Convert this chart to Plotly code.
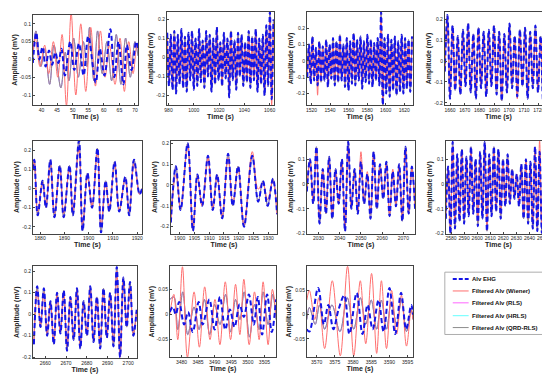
import plotly.graph_objects as go

W, H = 550, 375

# ---------------- data (time in s, amplitude in mV) ----------------
# Panel 1
p1_t_ehg = [37.2, 38.3, 39.3, 40.3, 41.3, 42.4, 43.4, 44.4, 45.4, 46.4, 47.5, 49.2, 50.5, 52.0, 53.5, 55.0, 57.4, 58.7, 60.2, 62.1, 63.4, 64.7, 66.3, 67.4, 68.9, 70.4, 71.0]
p1_ehg = [-0.01, 0.075, 0.0, 0.035, -0.02, 0.025, -0.015, 0.02, -0.01, 0.03, -0.045, 0.05, -0.03, 0.045, -0.045, 0.065, -0.065, 0.03, -0.045, 0.085, -0.05, 0.05, -0.07, 0.04, -0.03, 0.05, 0.03]
p1_t_wiener = [37.2, 38.0, 39.5, 41.0, 42.3, 43.8, 45.2, 46.6, 48.0, 49.5, 51.0, 52.6, 54.2, 55.8, 57.3, 58.9, 60.4, 61.8, 63.6, 65.2, 66.6, 68.0, 69.4, 70.6, 71.0]
p1_wiener = [0.02, 0.06, -0.02, 0.04, -0.04, 0.05, -0.05, 0.07, -0.13, 0.13, -0.1, 0.1, -0.09, 0.09, -0.075, 0.08, -0.05, 0.04, -0.07, 0.06, -0.09, 0.05, -0.04, 0.04, 0.03]
p1_t_qrd = [37.2, 38.2, 39.8, 41.0, 42.6, 44.0, 46.2, 47.6, 48.8, 50.3, 51.8, 53.4, 54.6, 55.4, 56.8, 58.0, 59.5, 61.0, 62.5, 64.0, 65.5, 67.0, 68.5, 70.0, 71.0]
p1_qrd = [0.0, 0.08, -0.02, 0.03, -0.07, 0.04, -0.08, 0.02, -0.06, 0.06, -0.05, 0.05, -0.02, 0.09, -0.06, 0.08, -0.04, 0.05, -0.06, 0.07, -0.07, 0.06, -0.05, 0.05, 0.01]

# Panel 2 (uniform extrema spacing)
p2_t0, p2_dt = 979.0, 1.4
p2_ehg = [0.13, -0.15, 0.12, -0.17, 0.14, -0.19, 0.12, -0.14, 0.15, -0.16,
          0.11, -0.18, 0.13, -0.12, 0.14, -0.17, 0.10, -0.15, 0.15, -0.13,
          0.09, -0.16, 0.14, -0.10, 0.12, -0.18, 0.10, -0.14, 0.16, -0.12,
          0.08, -0.15, 0.13, -0.11, 0.10, -0.21, 0.14, -0.12, 0.09, -0.17,
          0.13, -0.10, 0.12, -0.15, 0.08, -0.13, 0.14, -0.16, 0.11, -0.12,
          0.15, -0.18, 0.10, -0.14, 0.12, -0.20, 0.17, -0.15, 0.24, -0.22, 0.20]
p2_wiener = [0.10, -0.12, 0.09, -0.14, 0.11, -0.15, 0.09, -0.11, 0.12, -0.13,
             0.08, -0.14, 0.10, -0.09, 0.11, -0.13, 0.07, -0.12, 0.12, -0.10,
             0.07, -0.13, 0.11, -0.08, 0.09, -0.14, 0.08, -0.11, 0.13, -0.09,
             0.06, -0.12, 0.10, -0.09, 0.08, -0.17, 0.11, -0.10, 0.07, -0.14,
             0.10, -0.08, 0.09, -0.12, 0.06, -0.10, 0.11, -0.13, 0.09, -0.10,
             0.12, -0.15, 0.08, -0.11, 0.10, -0.17, 0.14, -0.13, 0.21, -0.25, 0.18]

# Panel 3
p3_t0, p3_dt = 1515.5, 1.85
p3_ehg = [-0.10, 0.10, -0.14, 0.15, -0.12, 0.08, -0.15, 0.12, -0.13, 0.09,
          -0.12, 0.13, -0.16, 0.10, -0.11, 0.14, -0.15, 0.12, -0.13, 0.16,
          -0.12, 0.10, -0.16, 0.14, -0.18, 0.12, -0.14, 0.17, -0.15, 0.13,
          -0.12, 0.15, -0.17, 0.12, -0.13, 0.16, -0.14, 0.13, -0.16, 0.11,
          -0.12, 0.14, -0.15, 0.30, -0.27, 0.14, -0.20, 0.16, -0.22, 0.13,
          -0.18, 0.15, -0.21, 0.12, -0.19, 0.16, -0.20, 0.14, -0.17, 0.13,
          -0.19, 0.15]
p3_wiener = [-0.08, 0.08, -0.11, 0.12, -0.10, 0.06, -0.21, 0.10, -0.10, 0.07,
             -0.10, 0.10, -0.13, 0.08, -0.09, 0.11, -0.12, 0.10, -0.10, 0.13,
             -0.10, 0.08, -0.13, 0.11, -0.14, 0.10, -0.11, 0.13, -0.12, 0.10,
             -0.10, 0.12, -0.14, 0.10, -0.10, 0.13, -0.11, 0.10, -0.13, 0.09,
             -0.10, 0.11, -0.12, 0.26, -0.24, 0.11, -0.16, 0.13, -0.17, 0.10,
             -0.14, 0.12, -0.16, 0.10, -0.15, 0.13, -0.16, 0.11, -0.14, 0.10,
             -0.15, 0.12]

# Panel 4
p4_t0, p4_dt = 1656.5, 1.75
p4_ehg = [-0.05, 0.22, -0.18, 0.17, -0.14, 0.12, -0.16, 0.15, -0.12, 0.18,
          -0.15, 0.13, -0.18, 0.16, -0.13, 0.14, -0.17, 0.15, -0.12, 0.17,
          -0.16, 0.14, -0.19, 0.13, -0.15, 0.18, -0.13, 0.12, -0.17, 0.15,
          -0.12, 0.16, -0.18, 0.14, -0.13, 0.17, -0.15, 0.12, -0.20, 0.16,
          -0.19, 0.23]
p4_wiener = [-0.04, 0.19, -0.16, 0.14, -0.12, 0.10, -0.14, 0.12, -0.10, 0.15,
             -0.13, 0.11, -0.15, 0.13, -0.11, 0.12, -0.14, 0.13, -0.10, 0.14,
             -0.13, 0.12, -0.16, 0.11, -0.13, 0.15, -0.11, 0.10, -0.18, 0.13,
             -0.10, 0.14, -0.15, 0.12, -0.11, 0.14, -0.13, 0.10, -0.17, 0.14,
             -0.17, 0.21]

# Panel 5
p5_t = [1877.0, 1877.6, 1879.0, 1881.0, 1882.4, 1884.2, 1885.9, 1888.1, 1889.7, 1892.1, 1893.5, 1896.0, 1897.5,
        1899.5, 1901.4, 1903.6, 1905.1, 1907.0, 1908.5, 1910.7, 1912.6, 1915.1, 1916.7, 1918.7, 1921.0, 1922.0]
p5_ehg = [0.10, 0.15, -0.14, 0.04, -0.10, 0.15, -0.15, 0.12, -0.15, 0.12, -0.14, 0.25, -0.22,
          0.08, -0.10, 0.21, -0.23, 0.04, -0.12, 0.14, -0.12, 0.06, -0.14, 0.15, -0.03, 0.0]
p5_wiener = [0.09, 0.14, -0.12, 0.03, -0.09, 0.13, -0.13, 0.11, -0.13, 0.11, -0.12, 0.21, -0.19,
             0.06, -0.09, 0.20, -0.20, 0.03, -0.10, 0.13, -0.11, 0.05, -0.12, 0.13, -0.03, 0.0]

# Panel 6
p6_t = [1897.0, 1898.7, 1900.3, 1902.7, 1904.5, 1906.0, 1907.6, 1909.6, 1911.2, 1912.7, 1914.4,
        1916.4, 1918.0, 1919.8, 1921.8, 1924.6, 1926.6, 1928.2, 1929.8, 1931.6, 1933.0]
p6_ehg = [-0.18, 0.09, -0.12, 0.20, -0.22, 0.05, -0.10, 0.14, -0.12, 0.05, -0.16,
          0.15, -0.10, 0.09, -0.20, 0.14, -0.08, 0.02, -0.10, 0.03, -0.14]
p6_wiener = [-0.17, 0.05, -0.11, 0.19, -0.21, 0.04, -0.10, 0.13, -0.11, 0.04, -0.15,
             0.13, -0.09, 0.08, -0.19, 0.16, -0.02, 0.01, -0.07, 0.02, -0.14]

# Panel 7
p7_t0, p7_dt = 2024.5, 1.5
p7_ehg = [-0.03, 0.10, -0.08, 0.15, -0.16, 0.06, -0.12, 0.11, -0.14, 0.06,
          -0.08, 0.10, -0.19, 0.17, -0.10, 0.06, -0.12, 0.09, -0.08, 0.04,
          -0.14, 0.13, -0.10, 0.08, -0.06, 0.09, -0.13, 0.05, -0.09, 0.08,
          -0.15, 0.15, -0.12, 0.07, -0.10]
p7_wiener = [-0.02, 0.09, -0.07, 0.13, -0.14, 0.05, -0.11, 0.10, -0.12, 0.05,
             -0.07, 0.09, -0.17, 0.15, -0.09, 0.05, -0.11, 0.13, -0.07, 0.05,
             -0.12, 0.12, -0.09, 0.07, -0.05, 0.08, -0.12, 0.06, -0.08, 0.07,
             -0.13, 0.14, -0.11, 0.06, -0.09]

# Panel 8
p8_t0, p8_dt = 2576.0, 1.75
p8_ehg = [-0.14, 0.07, -0.20, 0.17, -0.18, 0.12, -0.15, 0.14, -0.16, 0.11,
          -0.13, 0.15, -0.12, 0.10, -0.17, 0.13, -0.14, 0.17, -0.19, 0.12,
          -0.13, 0.15, -0.11, 0.14, -0.14, 0.10, -0.09, 0.12, -0.08, 0.06,
          -0.06, 0.04, -0.09, 0.08, -0.14, 0.10, -0.16, 0.09, -0.18, 0.15,
          -0.19, 0.13, -0.20, 0.15, -0.12, 0.10]
p8_wiener = [-0.12, 0.06, -0.18, 0.15, -0.16, 0.10, -0.13, 0.12, -0.14, 0.10,
             -0.11, 0.13, -0.10, 0.09, -0.15, 0.11, -0.12, 0.15, -0.17, 0.10,
             -0.11, 0.13, -0.10, 0.12, -0.12, 0.09, -0.08, 0.10, -0.07, 0.05,
             -0.05, 0.04, -0.08, 0.07, -0.12, 0.09, -0.14, 0.08, -0.16, 0.13,
             -0.17, 0.175, -0.18, 0.13, -0.11, 0.09]

# Panel 9
p9_t0, p9_dt = 2654.5, 1.6
p9_ehg = [-0.14, 0.13, -0.06, 0.12, -0.10, 0.06, -0.14, 0.10, -0.09, 0.11,
          -0.17, 0.08, -0.12, 0.12, -0.16, 0.06, -0.10, 0.13, -0.13, 0.08,
          -0.16, 0.12, -0.11, 0.10, -0.15, 0.22, -0.20, 0.17, -0.06, 0.15,
          -0.10, 0.02]
p9_wiener = [-0.12, 0.11, -0.05, 0.10, -0.09, 0.05, -0.13, 0.09, -0.08, 0.10,
             -0.15, 0.07, -0.11, 0.11, -0.14, 0.05, -0.09, 0.12, -0.12, 0.07,
             -0.14, 0.11, -0.10, 0.09, -0.13, 0.20, -0.20, 0.15, -0.05, 0.13,
             -0.09, 0.02]

# Panel 10
p10_t_ehg = [3476.5, 3477.4, 3478.3, 3479.3, 3480.8, 3482.0, 3483.4, 3485.2, 3486.4, 3488.4, 3490.0, 3491.6,
             3493.2, 3494.6, 3496.0, 3497.5, 3498.8, 3500.3, 3501.8, 3503.0, 3504.3, 3505.8, 3507.2, 3508.5]
p10_ehg = [0.005, 0.015, 0.0, 0.025, -0.02, 0.005, -0.035, 0.025, -0.02, 0.03, -0.03, 0.035,
           -0.03, 0.01, -0.025, 0.02, -0.005, 0.04, -0.02, 0.035, -0.04, 0.04, -0.035, 0.03]
p10_t_wiener = [3476.5, 3477.7, 3478.9, 3480.3, 3481.8, 3483.8, 3485.4, 3487.0, 3488.6, 3490.1, 3491.6, 3493.2,
                3494.8, 3496.3, 3497.6, 3498.8, 3500.4, 3502.0, 3503.4, 3504.6, 3506.1, 3507.4, 3508.5]
p10_wiener = [0.0, 0.04, -0.05, 0.095, -0.085, 0.045, -0.065, 0.055, -0.05, 0.03, -0.06, 0.065,
              -0.05, 0.06, -0.04, 0.07, -0.06, 0.045, -0.05, 0.065, -0.06, 0.05, 0.0]
p10_t_qrd = [3476.5, 3477.7, 3478.9, 3480.4, 3481.9, 3483.8, 3485.3, 3486.9, 3488.5, 3490.0, 3491.6, 3493.3,
             3494.8, 3496.3, 3497.6, 3498.9, 3500.5, 3502.0, 3503.4, 3504.6, 3506.1, 3507.5, 3508.5]
p10_qrd = [0.03, 0.035, -0.03, 0.045, -0.04, 0.015, -0.03, 0.03, -0.04, 0.02, -0.02, 0.04,
           -0.035, 0.03, -0.01, 0.045, -0.045, 0.02, -0.03, 0.045, -0.02, 0.04, -0.01]

# Panel 11
p11_t_ehg = [3567.3, 3568.0, 3570.4, 3572.0, 3573.2, 3574.6, 3576.0, 3577.6, 3579.0, 3581.0, 3582.6,
             3584.0, 3585.4, 3587.0, 3588.4, 3590.0, 3591.6, 3593.2, 3594.6, 3596.0, 3596.5]
p11_ehg = [-0.03, -0.035, 0.055, -0.02, 0.02, -0.03, 0.01, 0.04, -0.04, 0.045, -0.04,
           0.02, -0.03, 0.03, -0.035, 0.055, -0.04, 0.045, -0.03, 0.02, 0.0]
p11_t_wiener = [3567.3, 3568.0, 3569.5, 3570.6, 3572.2, 3574.3, 3576.5, 3578.5, 3580.2, 3582.0, 3583.5,
                3585.1, 3586.5, 3587.8, 3589.2, 3590.6, 3592.0, 3593.3, 3594.7, 3596.0, 3596.5]
p11_wiener = [0.03, 0.05, -0.01, 0.035, -0.07, 0.07, -0.085, 0.1, -0.085, 0.07, -0.06,
              0.085, -0.08, 0.07, -0.07, 0.05, -0.04, 0.04, -0.065, 0.01, -0.01]
p11_t_qrd = [3567.3, 3568.0, 3569.6, 3570.8, 3572.2, 3574.2, 3576.4, 3578.4, 3580.2, 3582.0, 3583.5,
             3585.0, 3586.5, 3587.8, 3589.2, 3590.5, 3592.0, 3593.3, 3594.7, 3596.0, 3596.5]
p11_qrd = [-0.01, 0.015, -0.02, 0.02, -0.03, 0.02, -0.035, 0.035, -0.03, 0.035, -0.02,
           0.03, -0.03, 0.03, -0.03, 0.025, -0.02, 0.03, -0.035, 0.01, -0.01]

# Tick values
p1_xticks = [40, 45, 50, 55, 60, 65, 70]
p2_xticks = [980, 1000, 1020, 1040, 1060]
p3_xticks = [1520, 1540, 1560, 1580, 1600, 1620]
p4_xticks = [1660, 1670, 1680, 1690, 1700, 1710, 1720]
p5_xticks = [1880, 1890, 1900, 1910, 1920]
p6_xticks = [1900, 1905, 1910, 1915, 1920, 1925, 1930]
p7_xticks = [2030, 2040, 2050, 2060, 2070]
p8_xticks = [2580, 2590, 2600, 2610, 2620, 2630, 2640, 2650]
p9_xticks = [2660, 2670, 2680, 2690, 2700]
p10_xticks = [3480, 3485, 3490, 3495, 3500, 3505]
p11_xticks = [3570, 3575, 3580, 3585, 3590, 3595]
yt_small = [-0.1, -0.05, 0, 0.05, 0.1]
yt_big = [-0.2, -0.1, 0, 0.1, 0.2]
yt_mid = [-0.2, -0.1, 0, 0.1]
yt_tiny = [-0.05, 0, 0.05]

series_names = ["Alv EHG", "Filtered Alv (Wiener)", "Filtered Alv (RLS)",
                "Filtered Alv (HRLS)", "Filtered Alv (QRD-RLS)"]

# ---------------- styles ----------------
C_EHG = "#1414e6"
C_WIENER = "#ff6f6f"
C_RLS = "#ff66ff"
C_HRLS = "#66ffff"
C_QRD = "#8c8c8c"
series_colors = [C_EHG, C_WIENER, C_RLS, C_HRLS, C_QRD]

# pixel boxes: (x0, x1, y0, y1) from the top-left
panels = [
    dict(box=(22, 128, 6, 97), xr=(37.2, 71.0), yr=(-0.128, 0.125), xt=p1_xticks, yt=yt_small,
         ehg=(p1_t_ehg, p1_ehg), wiener=(p1_t_wiener, p1_wiener), qrd=(p1_t_qrd, p1_qrd)),
    dict(box=(157, 265, 3, 97), xr=(978.7, 1063.5), yr=(-0.25, 0.24), xt=p2_xticks, yt=yt_big,
         u=(p2_t0, p2_dt), ehg=p2_ehg, wiener=p2_wiener, qrd=p2_ehg),
    dict(box=(298, 405, 3, 97), xr=(1515.0, 1629.5), yr=(-0.27, 0.30), xt=p3_xticks, yt=yt_big,
         u=(p3_t0, p3_dt), ehg=p3_ehg, wiener=p3_wiener, qrd=p3_ehg),
    dict(box=(437, 545, 3, 97), xr=(1656.5, 1729.0), yr=(-0.21, 0.235), xt=p4_xticks, yt=yt_big,
         u=(p4_t0, p4_dt), ehg=p4_ehg, wiener=p4_wiener, qrd=p4_ehg),
    dict(box=(22, 132, 133, 227), xr=(1877.0, 1922.0), yr=(-0.235, 0.25), xt=p5_xticks, yt=yt_big,
         ehg=(p5_t, p5_ehg), wiener=(p5_t, p5_wiener), qrd=(p5_t, p5_ehg)),
    dict(box=(161, 268, 133, 227), xr=(1897.0, 1933.0), yr=(-0.233, 0.213), xt=p6_xticks, yt=yt_big,
         ehg=(p6_t, p6_ehg), wiener=(p6_t, p6_wiener), qrd=(p6_t, p6_ehg)),
    dict(box=(298, 407, 133, 227), xr=(2024.5, 2075.5), yr=(-0.2, 0.175), xt=p7_xticks, yt=yt_mid,
         u=(p7_t0, p7_dt), ehg=p7_ehg, wiener=p7_wiener, qrd=p7_ehg),
    dict(box=(438, 544, 133, 227), xr=(2576.0, 2656.5), yr=(-0.2, 0.175), xt=p8_xticks, yt=yt_mid,
         u=(p8_t0, p8_dt), ehg=p8_ehg, wiener=p8_wiener, qrd=p8_ehg),
    dict(box=(22, 127, 260, 353), xr=(2654.0, 2704.3), yr=(-0.205, 0.223), xt=p9_xticks, yt=yt_big,
         u=(p9_t0, p9_dt), ehg=p9_ehg, wiener=p9_wiener, qrd=p9_ehg),
    dict(box=(160, 267, 260, 352), xr=(3476.5, 3508.5), yr=(-0.085, 0.096), xt=p10_xticks, yt=yt_tiny,
         ehg=(p10_t_ehg, p10_ehg), wiener=(p10_t_wiener, p10_wiener), qrd=(p10_t_qrd, p10_qrd)),
    dict(box=(298, 405, 260, 352), xr=(3567.3, 3596.5), yr=(-0.088, 0.10), xt=p11_xticks, yt=yt_tiny,
         ehg=(p11_t_ehg, p11_ehg), wiener=(p11_t_wiener, p11_wiener), qrd=(p11_t_qrd, p11_qrd)),
]

FONT = "Liberation Sans, Arial, sans-serif"
fig = go.Figure()

def add_series(i, p, key, name, color, width, dash):
    data = p[key]
    if "u" in p:
        kw = dict(y=data, x0=p["u"][0], dx=p["u"][1])
    else:
        kw = dict(x=data[0], y=data[1])
    ax = "" if i == 0 else str(i + 1)
    fig.add_trace(go.Scatter(
        mode="lines", name=name, showlegend=False,
        line=dict(color=color, width=width, dash=dash, shape="spline", smoothing=1.0),
        xaxis="x" + ax, yaxis="y" + ax, hoverinfo="skip", **kw))

layout = dict(width=W, height=H, autosize=False, margin=dict(l=0, r=0, t=0, b=0),
              paper_bgcolor="white", plot_bgcolor="white", showlegend=False)

for i, p in enumerate(panels):
    add_series(i, p, "qrd", series_names[3], C_HRLS, 1.0, "solid")
    add_series(i, p, "qrd", series_names[2], C_RLS, 1.0, "solid")
    add_series(i, p, "qrd", series_names[4], C_QRD, 1.0, "solid")
    add_series(i, p, "wiener", series_names[1], C_WIENER, 1.0, "solid")
    add_series(i, p, "ehg", series_names[0], C_EHG, 2.0, "5px,3px")

    x0, x1, y0, y1 = p["box"]
    ax = "" if i == 0 else str(i + 1)
    common = dict(showline=True, mirror=True, linecolor="#444", linewidth=0.8,
                  ticks="inside", ticklen=2, tickwidth=0.6, tickcolor="#444",
                  showgrid=False, zeroline=False, tickangle=0,
                  tickfont=dict(family=FONT, size=5, color="#222"))
    layout["xaxis" + ax] = dict(
        domain=[x0 / W, x1 / W], range=list(p["xr"]), anchor="y" + ax,
        tickvals=p["xt"], ticktext=[f"{v:g}" for v in p["xt"]],
        title=dict(text="Time (s)", standoff=1,
                   font=dict(family=FONT, size=7, color="#222", weight="bold")),
        **common)
    layout["yaxis" + ax] = dict(
        domain=[1 - y1 / H, 1 - y0 / H], range=list(p["yr"]), anchor="x" + ax,
        tickvals=p["yt"], ticktext=[f"{v:g}" for v in p["yt"]],
        title=dict(text="Amplitude (mV)", standoff=1,
                   font=dict(family=FONT, size=7, color="#222", weight="bold")),
        **common)

# ---------------- hand-built compact legend ----------------
LX0, LX1, LY0, LY1 = 437, 543, 266, 329
item_y = [273, 285, 297, 310, 322]
shapes = [dict(type="rect", xref="paper", yref="paper",
               x0=LX0 / W, x1=LX1 / W, y0=1 - LY1 / H, y1=1 - LY0 / H,
               line=dict(color="#999", width=0.8), fillcolor="white", layer="above")]
annotations = []
for k, name in enumerate(series_names):
    yy = 1 - item_y[k] / H
    shapes.append(dict(type="line", xref="paper", yref="paper",
                       x0=445 / W, x1=461 / W, y0=yy, y1=yy, layer="above",
                       line=dict(color=series_colors[k], width=2.0 if k == 0 else 1.0,
                                 dash="4px,2px" if k == 0 else "solid")))
    annotations.append(dict(xref="paper", yref="paper", x=462 / W, y=yy, text=name,
                            showarrow=False, xanchor="left", yanchor="middle",
                            font=dict(family=FONT, size=6.0, color="#111", weight="bold")))
layout["shapes"] = shapes
layout["annotations"] = annotations

fig.update_layout(**layout)
fig.write_html("out.html")
